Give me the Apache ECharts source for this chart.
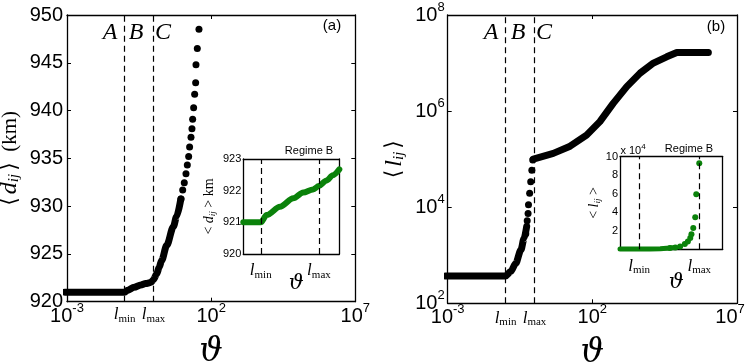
<!DOCTYPE html>
<html><head><meta charset="utf-8">
<script src="https://cdn.jsdelivr.net/npm/echarts@6/dist/echarts.min.js"></script>
<style>html,body{margin:0;padding:0;background:#fff}#c{width:748px;height:363px}</style>
</head><body><div id="c"></div>
<script>
// ---------- data ----------
const lMin = 0.1, lMax = 1;
// panel (a): <d_ij> (km) vs theta — dense band of dots
const dBandTheta = [0.00085, 0.01, 0.1, 0.126, 0.214, 0.363, 0.537, 0.794, 1.0, 1.29, 1.58, 1.91, 2.88, 4.9, 6.3, 8.9];
const dBandVal   = [921.0, 921.0, 921.0, 921.2, 921.5, 921.75, 921.9, 922.0, 922.3, 922.9, 923.6, 924.3, 925.9, 927.85, 928.9, 930.75];
// panel (a): sparse dots
const dDotTheta = [9.0, 10.3, 11.7, 13.4, 14.9, 16.6, 17.9, 20.0, 21.6, 22.8, 24.7, 26.8, 29.0, 29.8, 33.1, 37.8];
const dDotVal   = [930.75, 931.7, 932.45, 933.4, 934.3, 935.2, 936.2, 937.2, 938.1, 939.1, 940.3, 941.7, 942.9, 944.8, 946.5, 948.5];
// panel (b): <l_ij> vs theta
const lFlatTheta = [0.00085, 0.01, 0.1, 0.151, 0.224, 0.339, 0.437, 0.537];
const lFlatVal   = [370, 370, 370, 457, 676, 1290, 2240, 3980];
const lRiseTheta = [0.50, 0.56, 0.60, 0.62, 0.68, 0.74, 0.81, 0.87];
const lRiseVal   = [2800, 5200, 7400, 11200, 19500, 33900, 58900, 95500];
const lUpperTheta = [0.91, 4.47, 17.0, 63.1, 182, 525, 1549, 4467, 12900, 37150, 83180, 1023000];
const lUpperVal   = [100000, 131800, 186000, 316000, 603000, 1445000, 3236000, 6166000, 10000000, 13490000, 16600000, 16600000];
// inset (a): regime B
const inDTheta = [0.0501, 0.07, 0.1, 0.126, 0.214, 0.363, 0.537, 0.794, 1.0, 1.35, 1.74, 2.24];
const inDVal   = [921.0, 921.0, 921.0, 921.23, 921.49, 921.76, 921.94, 922.04, 922.15, 922.32, 922.49, 922.67];
// inset (b): regime B
const inLBandTheta = [0.0479, 0.1, 0.151, 0.224, 0.324, 0.40];
const inLBandVal   = [370, 370, 457, 676, 1400, 2000];
const inLDotTheta = [0.324, 0.40, 0.48, 0.575, 0.646, 0.708, 0.741, 0.794, 0.857, 0.891, 1.0];
const inLDotVal   = [1400, 2000, 3000, 5700, 8400, 12200, 16200, 23000, 34600, 59400, 92900];
// tick labels
const dTicks = [920, 925, 930, 935, 940, 945, 950];
const inDTicks = [920, 921, 922, 923];
const inLTicks = [2, 4, 6, 8, 10];
const regimeLabels = ['A', 'B', 'C'];

// ---------- helpers ----------
const zip = (a, b) => a.map((v, i) => [v, b[i]]);
const SANS = 'Liberation Sans';
const SERIF = 'Liberation Serif';
const supRich = {
  b: {fontSize: 20, fontFamily: SANS, color: '#000', lineHeight: 21},
  s: {fontSize: 13, fontFamily: SANS, color: '#000', lineHeight: 13, padding: [0, 0, 16, 0]},
  e: {fontSize: 13, fontFamily: SANS, color: '#000', lineHeight: 13, padding: [0, 14, 16, 0]}
};
const powFmt = v => '{b|10}{s|' + Math.round(Math.log10(v)) + '}';
// right panel: the last label sits inside the figure edge
const powFmtR = v => {
  const e = Math.round(Math.log10(v));
  return '{b|10}{' + (e === 7 ? 'e' : 's') + '|' + e + '}';
};
const subRich = {
  l: {fontSize: 17, fontFamily: SERIF, fontStyle: 'italic', color: '#000', lineHeight: 18},
  m: {fontSize: 11, fontFamily: SERIF, color: '#000', lineHeight: 11, padding: [8, 0, 0, 0]}
};
const lMinLbl = '{l|l}{m|min}', lMaxLbl = '{l|l}{m|max}';
function vlines(dist) {
  return {
    silent: true, symbol: ['none', 'none'], animation: false,
    lineStyle: {type: [6, 4], color: '#000', width: 1.2},
    label: {show: true, position: 'start', distance: dist, rich: subRich},
    data: [{xAxis: lMin, label: {formatter: lMinLbl}}, {xAxis: lMax, label: {formatter: lMaxLbl}}]
  };
}
const axLine = {show: true, onZero: false, lineStyle: {color: '#000', width: 1.3}};
const tickIn = {show: true, inside: true, length: 4, lineStyle: {color: '#000', width: 1}};
function mkAx(base, pos, gridIndex, extra) {
  return Object.assign({gridIndex, position: pos, axisLine: axLine, axisTick: tickIn, splitLine: {show: false},
    axisLabel: {show: false}}, base, extra || {});
}
const thetaX = {type: 'log', logBase: 10, min: 0.001, max: 1e7, interval: 5};
const dY = {type: 'value', min: 920, max: 950, interval: 5};
const lY = {type: 'log', logBase: 10, min: 100, max: 1e8, interval: 2};
const inDX = {type: 'log', logBase: 10, min: 0.0501, max: 2.24};
const inLX = {type: 'log', logBase: 10, min: 0.0479, max: 2.455};
const inDY = {type: 'value', min: 920, max: 923, interval: 1};
const inLY = {type: 'value', min: 0, max: 100000, interval: 20000};
const noTick = {show: false};

const thetaName = {
  name: 'ϑ', nameLocation: 'middle', nameGap: 31,
  nameTextStyle: {fontFamily: 'DejaVu Serif', fontStyle: 'italic', fontSize: 33, color: '#000'}
};
function insetThetaName(gap) {
  return {
    name: 'ϑ', nameLocation: 'middle', nameGap: gap,
    nameTextStyle: {fontFamily: 'DejaVu Serif', fontStyle: 'italic', fontSize: 21, color: '#000', padding: [0, 0, 0, 10]}
  };
}
const bigNameRich = {
  lb: {fontFamily: 'DejaVu Serif', fontSize: 22, color: '#000', lineHeight: 24, padding: [0, 3, 0, 0]},
  rb: {fontFamily: 'DejaVu Serif', fontSize: 22, color: '#000', lineHeight: 24, padding: [0, 0, 0, 3]},
  d: {fontFamily: SERIF, fontStyle: 'italic', fontSize: 24, color: '#000', lineHeight: 24},
  s: {fontFamily: SERIF, fontStyle: 'italic', fontSize: 15, color: '#000', lineHeight: 15, padding: [9, 0, 0, 0]},
  u: {fontFamily: SERIF, fontSize: 21, color: '#000', lineHeight: 24}
};
const smallNameRich = {
  t: {fontFamily: SERIF, fontSize: 14, color: '#000', lineHeight: 16},
  d: {fontFamily: SERIF, fontStyle: 'italic', fontSize: 14, color: '#000', lineHeight: 16},
  s: {fontFamily: SERIF, fontStyle: 'italic', fontSize: 9, color: '#000', lineHeight: 9, padding: [6, 0, 0, 0]}
};
const bandStyle = {width: 7, color: '#000', cap: 'round', join: 'round'};
const GREEN = '#0a820a';
const gridBase = {outerBoundsMode: 'none', containLabel: false};

const option = {
  animation: false,
  backgroundColor: '#fff',
  grid: [
    Object.assign({left: 67, top: 15, width: 288.3, height: 286.7}, gridBase),
    Object.assign({left: 447.7, top: 15, width: 289.3, height: 288.3}, gridBase),
    Object.assign({left: 243.3, top: 159, width: 96, height: 95}, gridBase),
    Object.assign({left: 620, top: 156.7, width: 102.7, height: 92.6}, gridBase)
  ],
  xAxis: [
    mkAx(thetaX, 'bottom', 0, Object.assign({axisLabel: {show: true, formatter: powFmt, rich: supRich, margin: 4}}, thetaName)),
    mkAx(thetaX, 'top', 0),
    mkAx(thetaX, 'bottom', 1, Object.assign({axisLabel: {show: true, formatter: powFmtR, rich: supRich, margin: 4}}, thetaName)),
    mkAx(thetaX, 'top', 1),
    mkAx(inDX, 'bottom', 2, Object.assign({axisTick: noTick}, insetThetaName(19))),
    mkAx(inDX, 'top', 2, {axisTick: noTick}),
    mkAx(inLX, 'bottom', 3, Object.assign({axisTick: noTick}, insetThetaName(23))),
    mkAx(inLX, 'top', 3, {axisTick: noTick})
  ],
  yAxis: [
    mkAx(dY, 'left', 0, {
      axisLabel: {show: true, fontSize: 20, fontFamily: SANS, color: '#000', margin: 4},
      name: '{lb|⟨}{d|d}{s|ij}{rb|⟩}{u|  (km)}', nameLocation: 'middle', nameGap: 45, nameRotate: 90,
      nameTextStyle: {rich: bigNameRich}
    }),
    mkAx(dY, 'right', 0),
    mkAx(lY, 'left', 1, {
      axisLabel: {show: true, formatter: powFmt, rich: supRich, margin: 3},
      name: '{lb|⟨}{d|l}{s|ij}{rb|⟩}', nameLocation: 'middle', nameGap: 41, nameRotate: 90,
      nameTextStyle: {rich: bigNameRich}
    }),
    mkAx(lY, 'right', 1),
    mkAx(inDY, 'left', 2, {
      axisTick: noTick,
      axisLabel: {show: true, fontSize: 11, fontFamily: SANS, color: '#000', margin: 2},
      name: '{t|< }{d|d}{s|ij}{t| > km}', nameLocation: 'middle', nameGap: 26, nameRotate: 90,
      nameTextStyle: {rich: smallNameRich}
    }),
    mkAx(inDY, 'right', 2, {axisTick: noTick}),
    mkAx(inLY, 'left', 3, {
      axisTick: noTick,
      axisLabel: {show: true, fontSize: 11, fontFamily: SANS, color: '#000', margin: 2,
        formatter: v => (v === 0 ? '' : String(v / 1e4))},
      name: '{t|< }{d|l}{s|ij}{t| >}', nameLocation: 'middle', nameGap: 17, nameRotate: 90,
      nameTextStyle: {rich: smallNameRich}
    }),
    mkAx(inLY, 'right', 3, {axisTick: noTick})
  ],
  series: [
    {type: 'line', xAxisIndex: 0, yAxisIndex: 0, data: zip(dBandTheta, dBandVal), symbol: 'none', clip: false,
      smooth: 0.3, smoothMonotone: 'x', lineStyle: bandStyle, markLine: vlines(4)},
    {type: 'scatter', xAxisIndex: 0, yAxisIndex: 0, data: zip(dDotTheta, dDotVal), symbolSize: 7,
      itemStyle: {color: '#000', opacity: 1}},
    {type: 'line', xAxisIndex: 2, yAxisIndex: 2, data: zip(lFlatTheta, lFlatVal), symbol: 'none', clip: false,
      smooth: 0.3, smoothMonotone: 'x', lineStyle: bandStyle, markLine: vlines(6)},
    {type: 'scatter', xAxisIndex: 2, yAxisIndex: 2, data: zip(lRiseTheta, lRiseVal), symbolSize: 7,
      itemStyle: {color: '#000', opacity: 1}},
    {type: 'line', xAxisIndex: 2, yAxisIndex: 2, data: zip(lUpperTheta, lUpperVal), symbol: 'none', clip: false,
      lineStyle: bandStyle},
    {type: 'line', xAxisIndex: 4, yAxisIndex: 4, data: zip(inDTheta, inDVal), symbol: 'none', clip: false,
      smooth: 0.3, smoothMonotone: 'x', lineStyle: {width: 6, color: GREEN, cap: 'round', join: 'round'}, markLine: vlines(8)},
    {type: 'line', xAxisIndex: 6, yAxisIndex: 6, data: zip(inLBandTheta, inLBandVal), symbol: 'none', clip: false,
      lineStyle: {width: 5, color: GREEN, cap: 'round', join: 'round'}, markLine: vlines(8)},
    {type: 'scatter', xAxisIndex: 6, yAxisIndex: 6, data: zip(inLDotTheta, inLDotVal), symbolSize: 6, clip: false,
      itemStyle: {color: GREEN, opacity: 1}}
  ],
  graphic: [
    {type: 'text', x: 110, y: 33, style: {text: regimeLabels[0], font: 'italic 24px "Liberation Serif"', fill: '#000', align: 'center', verticalAlign: 'middle'}},
    {type: 'text', x: 136, y: 33, style: {text: regimeLabels[1], font: 'italic 24px "Liberation Serif"', fill: '#000', align: 'center', verticalAlign: 'middle'}},
    {type: 'text', x: 163, y: 33, style: {text: regimeLabels[2], font: 'italic 24px "Liberation Serif"', fill: '#000', align: 'center', verticalAlign: 'middle'}},
    {type: 'text', x: 491, y: 33, style: {text: regimeLabels[0], font: 'italic 24px "Liberation Serif"', fill: '#000', align: 'center', verticalAlign: 'middle'}},
    {type: 'text', x: 518, y: 33, style: {text: regimeLabels[1], font: 'italic 24px "Liberation Serif"', fill: '#000', align: 'center', verticalAlign: 'middle'}},
    {type: 'text', x: 544, y: 33, style: {text: regimeLabels[2], font: 'italic 24px "Liberation Serif"', fill: '#000', align: 'center', verticalAlign: 'middle'}},
    {type: 'text', x: 332, y: 26, style: {text: '(a)', font: '15px "Liberation Sans"', fill: '#000', align: 'center', verticalAlign: 'middle'}},
    {type: 'text', x: 716, y: 27, style: {text: '(b)', font: '15px "Liberation Sans"', fill: '#000', align: 'center', verticalAlign: 'middle'}},
    {type: 'text', x: 309, y: 151, style: {text: 'Regime B', font: '11px "Liberation Sans"', fill: '#000', align: 'center', verticalAlign: 'middle'}},
    {type: 'text', x: 689, y: 149, style: {text: 'Regime B', font: '11px "Liberation Sans"', fill: '#000', align: 'center', verticalAlign: 'middle'}},
    {type: 'text', x: 633, y: 151, style: {text: '{x|x 10}{s|4}', align: 'center', verticalAlign: 'middle', rich: {
      x: {font: '11px "Liberation Sans"', fill: '#000', lineHeight: 12},
      s: {font: '8px "Liberation Sans"', fill: '#000', lineHeight: 8, padding: [0, 0, 8, 0]}}}}
  ]
};
const chart = echarts.init(document.getElementById('c'), null, {renderer: 'canvas'});
chart.setOption(option);
</script>
</body></html>
